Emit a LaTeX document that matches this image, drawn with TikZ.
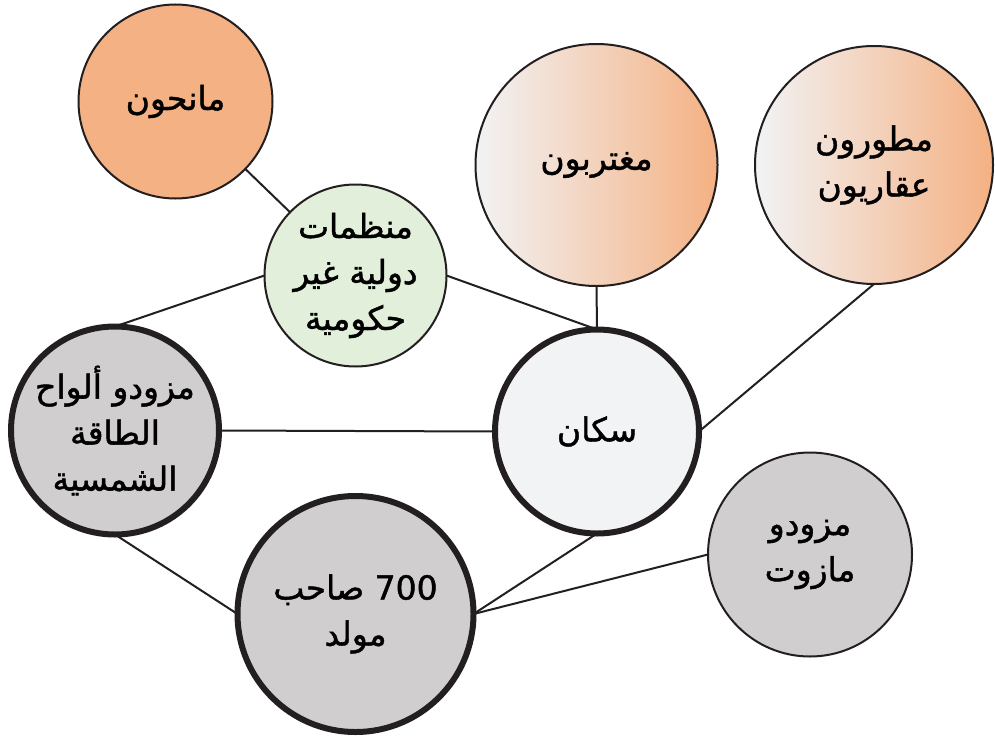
\documentclass[tikz,border=0pt]{standalone}
\usepackage{fontspec}
\TeXXeTstate=1
\newfontfamily\arabicfont[Script=Arabic, BoldFont={DejaVu Sans}, BoldFeatures={FakeBold=1.3}]{DejaVu Sans}
\definecolor{edge}{HTML}{231F20}
\definecolor{donorfill}{HTML}{F4B183}
\definecolor{ngofill}{HTML}{E2EFDA}
\definecolor{palefill}{HTML}{F2F3F5}
\definecolor{greyfill}{HTML}{D0CECE}
\begin{document}
\begin{tikzpicture}[x=1pt,y=-1pt,
  actor/.style={circle, draw=edge, line width=2pt, inner sep=0pt, outer sep=0pt,
    align=center, text=black, font=\arabicfont\bfseries\fontsize{33}{46}\selectfont},
  core/.style={actor, line width=6pt},
  warm/.style={shading=axis, left color=palefill, right color=donorfill},
  link/.style={draw=edge, line width=2pt}]
\useasboundingbox (0,0) rectangle (995,736);

% stakeholder circles
\node[actor, fill=donorfill, minimum size=194pt] (donors) at (175.5,101.5)
  {\beginR مانحون\endR};
\node[actor, fill=ngofill, minimum size=182pt] (ngo) at (355.5,275.5)
  {\beginR منظمات\endR\\\beginR دولية غير\endR\\\beginR حكومية\endR};
\node[actor, warm, minimum size=242pt] (expats) at (596.5,165)
  {\beginR مغتربون\endR};
\node[actor, warm, minimum size=238pt] (devs) at (874,165)
  {\beginR مطورون\endR\\\beginR عقاريون\endR};
\node[core, fill=palefill, minimum size=204pt] (residents) at (597,431.5)
  {\beginR سكان\endR};
\node[core, fill=greyfill, minimum size=208pt] (solar) at (115,430.5)
  {\beginR مزودو ألواح\endR\\\beginR الطاقة\endR\\\beginR الشمسية\endR};
\node[core, fill=greyfill, minimum size=236pt] (gens) at (355.5,614)
  {\beginR\beginL 700\endL{} صاحب\endR\\\beginR مولد\endR};
\node[actor, fill=greyfill, minimum size=204pt] (diesel) at (810,554.5)
  {\beginR مزودو\endR\\\beginR مازوت\endR};

% relations
\draw[link] (donors) -- (ngo);
\draw[link] (ngo.west) -- (solar.north);
\draw[link] (ngo.east) -- (residents.north);
\draw[link] (expats.south) -- (residents.north);
\draw[link] (devs.south) -- (residents.east);
\draw[link] (solar.east) -- (residents.west);
\draw[link] (solar.south) -- (gens.west);
\draw[link] (gens.east) -- (residents.south);
\draw[link] (gens.east) -- (diesel.west);
\end{tikzpicture}
\end{document}
